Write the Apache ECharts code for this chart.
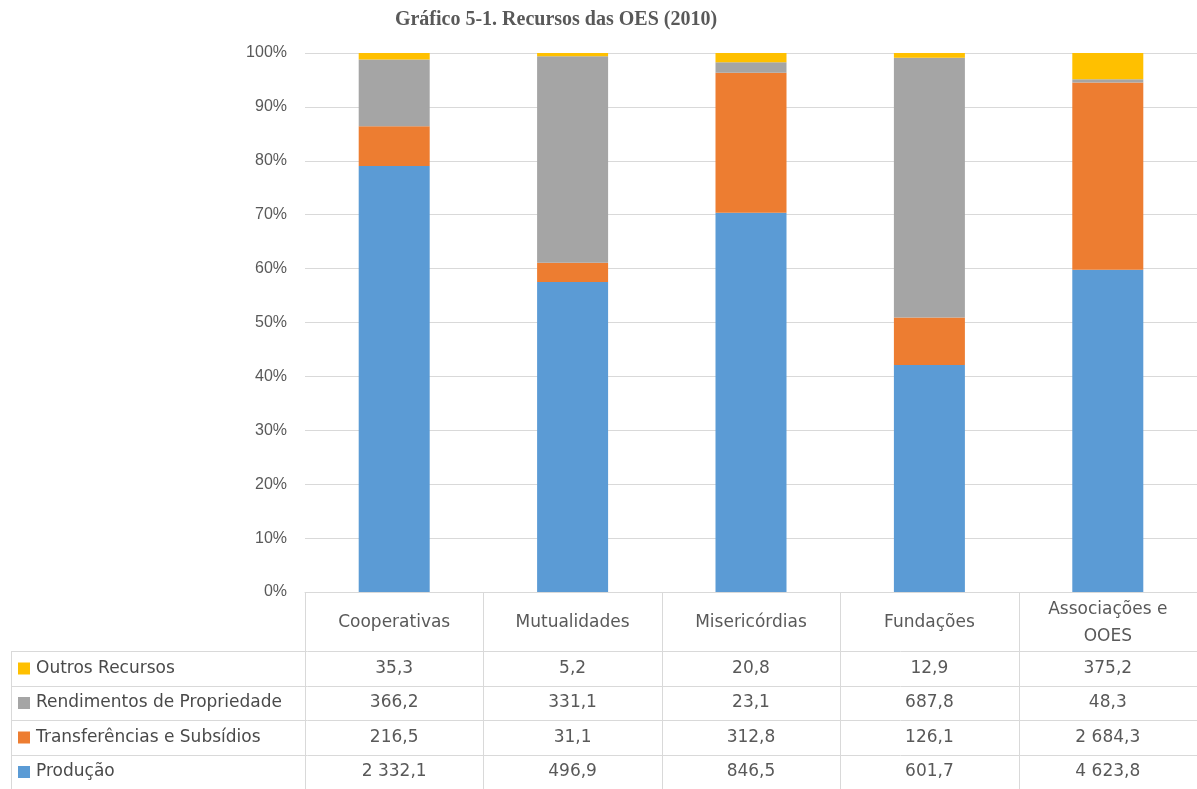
<!DOCTYPE html>
<html><head><meta charset="utf-8">
<script src="https://cdn.jsdelivr.net/npm/echarts@6/dist/echarts.min.js"></script>
<style>html,body{margin:0;padding:0;background:#fff}#c{width:1197px;height:789px}</style>
</head><body><div id="c"></div>
<script>
const categories = ['Cooperativas', 'Mutualidades', 'Misericórdias', 'Fundações', 'Associações e\nOOES'];
const seriesNames = ['Produção', 'Transferências e Subsídios', 'Rendimentos de Propriedade', 'Outros Recursos'];
const producao = [2332.1, 496.9, 846.5, 601.7, 4623.8];
const transferencias = [216.5, 31.1, 312.8, 126.1, 2684.3];
const rendimentos = [366.2, 331.1, 23.1, 687.8, 48.3];
const outros = [35.3, 5.2, 20.8, 12.9, 375.2];
const colors = ['#5B9BD5', '#ED7D31', '#A5A5A5', '#FFC000'];

const raw = [producao, transferencias, rendimentos, outros];
const totals = categories.map((_, i) => raw.reduce((s, a) => s + a[i], 0));
const pct = raw.map(a => a.map((v, i) => v / totals[i] * 100));
const fmt = v => {
  const parts = v.toFixed(1).split('.');
  const int = parts[0].replace(/\B(?=(\d{3})+(?!\d))/g, ' ');
  return int + ',' + parts[1];
};

const FONT = 'Liberation Sans';
const TFONT = 'DejaVu Sans';
const TXT = '#595959';
const LINE = '#D9D9D9';
const chart = echarts.init(document.getElementById('c'), null, {renderer: 'canvas'});
const GL = 305, GT = 53, GB = 592, W = 1197;
chart.setOption({
  animation: false,
  title: {
    text: 'Gráfico 5-1. Recursos das OES (2010)',
    left: 551, top: 5, textAlign: 'center',
    textStyle: {fontFamily: 'Liberation Serif', fontWeight: 'bold', fontSize: 20, color: TXT}
  },
  grid: {left: GL, right: 0, top: GT, bottom: 789 - GB},
  xAxis: {
    type: 'category', data: categories,
    axisLine: {show: true, lineStyle: {color: LINE, width: 1}},
    axisTick: {show: false},
    axisLabel: {fontFamily: TFONT, fontSize: 17, color: TXT, margin: 31, lineHeight: 27, interval: 0, verticalAlign: 'middle'}
  },
  yAxis: {
    type: 'value', min: 0, max: 100, interval: 10,
    axisLabel: {formatter: v => v + '%', fontFamily: FONT, fontSize: 16, color: TXT, margin: 18},
    splitLine: {lineStyle: {color: LINE, width: 1}},
    axisLine: {show: false}, axisTick: {show: false}
  },
  series: pct.map((d, k) => ({
    name: seriesNames[k], type: 'bar', stack: 's', data: d, barWidth: 71,
    itemStyle: {color: colors[k]}
  }))
});

// data table
const rowY = [651, 686, 720, 755, 789];
const rows = [
  {name: 'Outros Recursos', data: outros, color: colors[3]},
  {name: 'Rendimentos de Propriedade', data: rendimentos, color: colors[2]},
  {name: 'Transferências e Subsídios', data: transferencias, color: colors[1]},
  {name: 'Produção', data: producao, color: colors[0]}
];
const g = [];
const centers = categories.map((c, i) => chart.convertToPixel({xAxisIndex: 0}, i));
const step = centers[1] - centers[0];
const colEdges = [GL].concat(centers.map(c => c + step / 2));
colEdges.forEach(x => g.push({type: 'line', shape: {x1: Math.round(x) + 0.5, y1: GB, x2: Math.round(x) + 0.5, y2: 789}, style: {stroke: LINE, lineWidth: 1}}));
g.push({type: 'line', shape: {x1: 11.5, y1: rowY[0], x2: 11.5, y2: 789}, style: {stroke: LINE, lineWidth: 1}});
rowY.forEach(y => g.push({type: 'line', shape: {x1: 11, y1: y + 0.5, x2: W, y2: y + 0.5}, style: {stroke: LINE, lineWidth: 1}}));
rows.forEach((r, k) => {
  const yc = (rowY[k] + rowY[k + 1]) / 2;
  g.push({type: 'rect', shape: {x: 18, y: yc - 6, width: 12, height: 12}, style: {fill: r.color}});
  g.push({type: 'text', x: 36, y: yc, style: {text: r.name, fontFamily: TFONT, fontSize: 17, fill: '#4A4A4A', verticalAlign: 'middle', align: 'left'}});
  r.data.forEach((v, i) => {
    g.push({type: 'text', x: centers[i], y: yc, style: {text: fmt(v), fontFamily: TFONT, fontSize: 17, fill: TXT, verticalAlign: 'middle', align: 'center'}});
  });
});
chart.setOption({graphic: g});
</script></body></html>
